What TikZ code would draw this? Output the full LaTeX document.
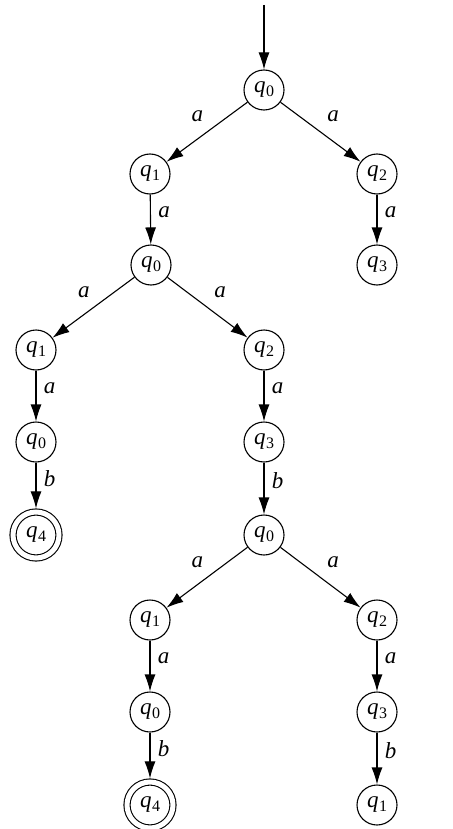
\documentclass[tikz,border=0pt]{standalone}
\usepackage{fontspec}
\setmainfont{Liberation Serif}
\usepackage{tikz}
\usetikzlibrary{arrows.meta,positioning}
\tikzset{>={Latex[length=17pt,width=11pt]}}
\newcommand{\st}[1]{\textit{q}\kern.5pt\raisebox{-.35ex}{\fontsize{16}{16}\selectfont #1}}

\begin{document}
\begin{tikzpicture}[x=1pt,y=-1pt,font=\fontsize{23}{26}\selectfont]
    \tikzstyle{state}=[draw,circle,minimum size=40pt,inner sep=0pt,line width=1.1pt];
    \tikzstyle{final}=[state,double,double distance=5pt,minimum size=46pt,outer sep=3.6pt];
    \tikzstyle{tr}=[line width=1.1pt,->];
    \tikzstyle{lbl}=[pos=.35,right=4pt];
    \tikzstyle{lbll}=[above left=6pt and 0pt];
    \tikzstyle{lblr}=[above right=6pt and 3pt];
    \useasboundingbox (0,0) rectangle (452,829);
    \coordinate (start) at (264,5);
    \node[state] (q0a) at (264,90) {\st0};
    \node[state] (q1a) at (150,174) {\st1};
    \node[state] (q2a) at (377,174) {\st2};
    \node[state] (q0b) at (151,265) {\st0};
    \node[state] (q3a) at (377,265) {\st3};
    \node[state] (q1b) at (36,350) {\st1};
    \node[state] (q2b) at (264,350) {\st2};
    \node[state] (q0c) at (36,442) {\st0};
    \node[state] (q3b) at (264,442) {\st3};
    \node[final] (q4a) at (36,535) {\st4};
    \node[state] (q0d) at (264,535) {\st0};
    \node[state] (q1c) at (150,620) {\st1};
    \node[state] (q2c) at (377,620) {\st2};
    \node[state] (q0e) at (150,712) {\st0};
    \node[state] (q3c) at (377,712) {\st3};
    \node[final] (q4b) at (150,805) {\st4};
    \node[state] (q1d) at (377,805) {\st1};
    \draw[tr] (start) -- (q0a);
    \draw[tr] (q0a) -- node[lbll]{\textit{a}} (q1a);
    \draw[tr] (q0a) -- node[lblr]{\textit{a}} (q2a);
    \draw[tr] (q1a) -- node[lbl]{\textit{a}} (q0b);
    \draw[tr] (q2a) -- node[lbl]{\textit{a}} (q3a);
    \draw[tr] (q0b) -- node[lbll]{\textit{a}} (q1b);
    \draw[tr] (q0b) -- node[lblr]{\textit{a}} (q2b);
    \draw[tr] (q1b) -- node[lbl]{\textit{a}} (q0c);
    \draw[tr] (q0c) -- node[lbl]{\textit{b}} (q4a);
    \draw[tr] (q2b) -- node[lbl]{\textit{a}} (q3b);
    \draw[tr] (q3b) -- node[lbl]{\textit{b}} (q0d);
    \draw[tr] (q0d) -- node[lbll]{\textit{a}} (q1c);
    \draw[tr] (q0d) -- node[lblr]{\textit{a}} (q2c);
    \draw[tr] (q1c) -- node[lbl]{\textit{a}} (q0e);
    \draw[tr] (q0e) -- node[lbl]{\textit{b}} (q4b);
    \draw[tr] (q2c) -- node[lbl]{\textit{a}} (q3c);
    \draw[tr] (q3c) -- node[lbl]{\textit{b}} (q1d);
  \end{tikzpicture}
\end{document}
